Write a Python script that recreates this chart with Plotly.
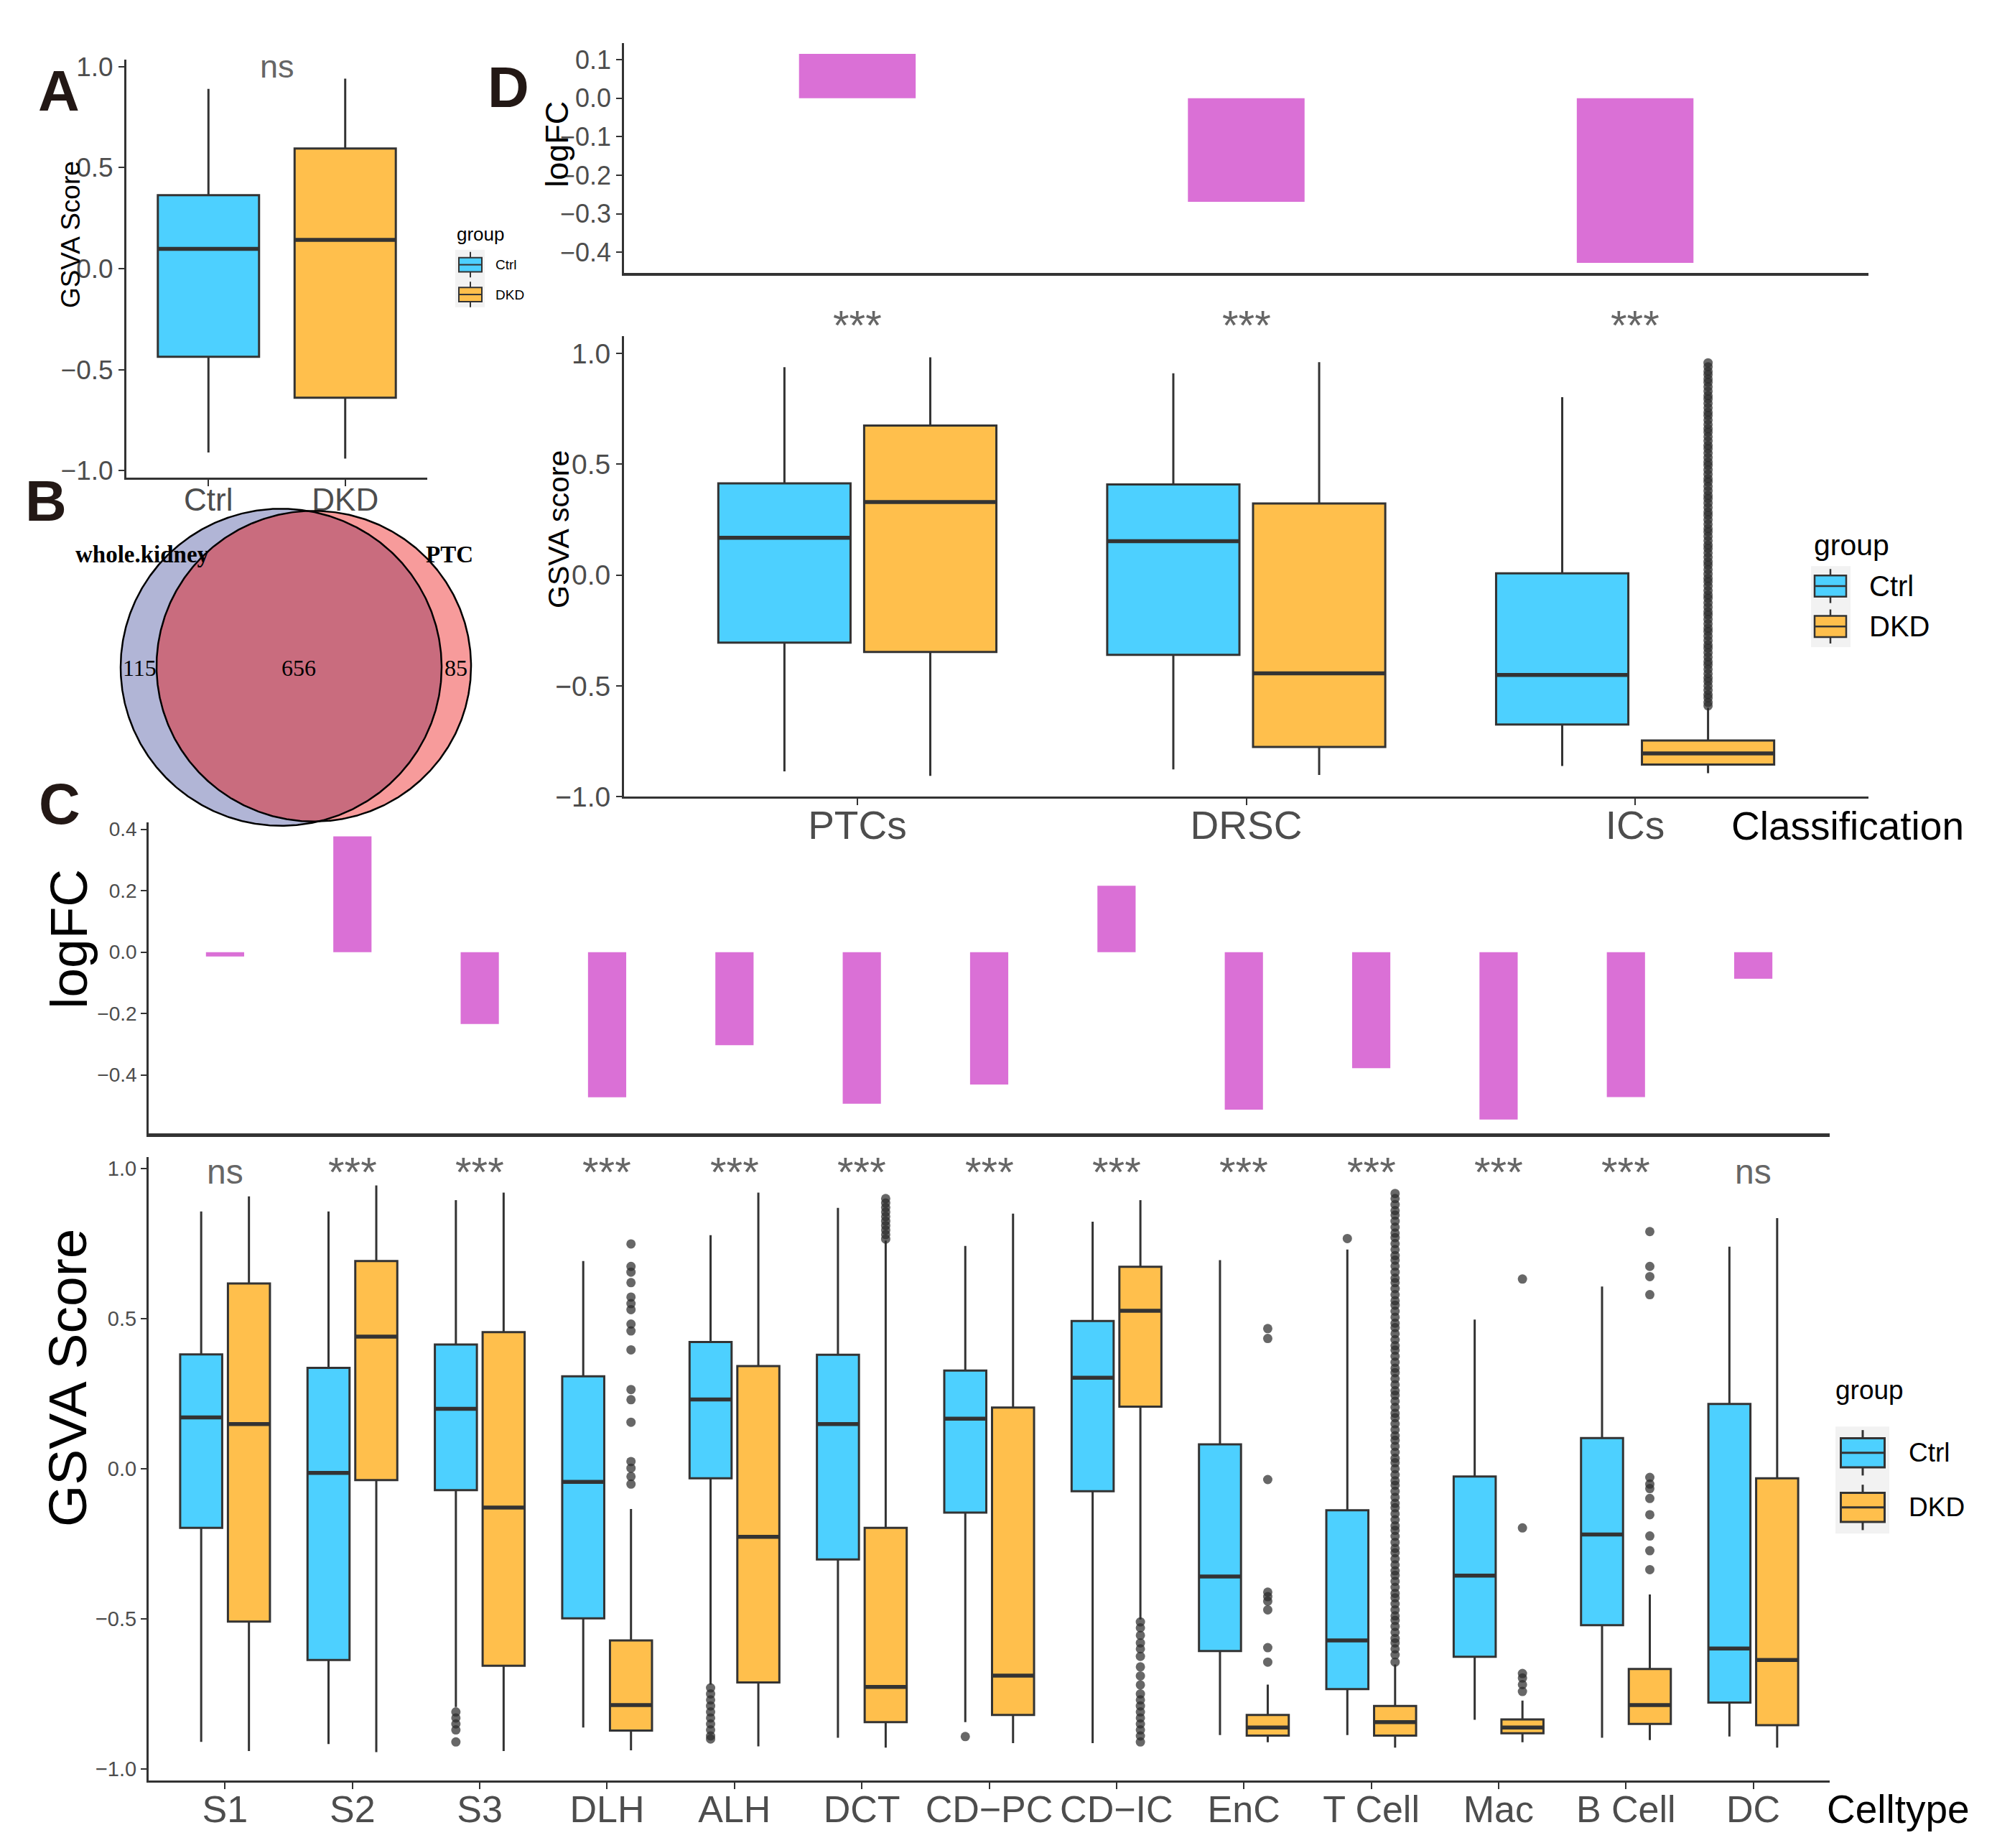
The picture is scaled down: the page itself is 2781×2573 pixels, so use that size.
import numpy as np
import plotly.graph_objects as go

W, H = 2781, 2573

# ---------------- DATA ----------------
groups = ["Ctrl", "DKD"]

# Panel A : overall GSVA score
a_cats = ["Ctrl", "DKD"]
a_low = [-0.91, -0.94]
a_q1 = [-0.436, -0.639]
a_med = [0.098, 0.142]
a_q3 = [0.364, 0.595]
a_high = [0.89, 0.94]
a_sig = "ns"

# Panel B : Venn
venn_sets = ["whole.kidney", "PTC"]
venn_counts = [115, 656, 85]  # whole.kidney only, both, PTC only

# Panel D : classification
d_cats = ["PTCs", "DRSC", "ICs"]
d_logfc = [0.115, -0.269, -0.427]
d_sig = ["***", "***", "***"]
d_ctrl_low = [-0.886, -0.877, -0.862]
d_ctrl_q1 = [-0.305, -0.360, -0.675]
d_ctrl_med = [0.168, 0.153, -0.451]
d_ctrl_q3 = [0.414, 0.409, 0.008]
d_ctrl_high = [0.938, 0.911, 0.803]
d_dkd_low = [-0.906, -0.902, -0.894]
d_dkd_q1 = [-0.347, -0.776, -0.855]
d_dkd_med = [0.330, -0.444, -0.805]
d_dkd_q3 = [0.675, 0.323, -0.747]
d_dkd_high = [0.983, 0.961, -0.599]
d_dkd_outliers = {
    "ICs": [0.958, 0.94, 0.92, 0.905, 0.885, 0.87, 0.85, 0.83, 0.81, 0.795, 0.775, 0.755,
            0.735, 0.72, 0.70, 0.68, 0.66, 0.645, 0.625, 0.605, 0.585, 0.57, 0.55, 0.53,
            0.51, 0.495, 0.475, 0.455, 0.435, 0.42, 0.40, 0.38, 0.36, 0.345, 0.325, 0.305,
            0.285, 0.27, 0.25, 0.23, 0.21, 0.195, 0.175, 0.155, 0.135, 0.12, 0.10, 0.08,
            0.06, 0.045, 0.025, 0.005, -0.015, -0.03, -0.05, -0.07, -0.09, -0.105, -0.125,
            -0.145, -0.165, -0.18, -0.20, -0.22, -0.24, -0.255, -0.275, -0.295, -0.315,
            -0.33, -0.35, -0.37, -0.39, -0.405, -0.425, -0.445, -0.465, -0.48, -0.50,
            -0.52, -0.54, -0.555, -0.575, -0.59],
}

# Panel C : cell types
c_cats = ["S1", "S2", "S3", "DLH", "ALH", "DCT", "CD\u2212PC", "CD\u2212IC", "EnC",
          "T Cell", "Mac", "B Cell", "DC"]
c_logfc = [-0.014, 0.377, -0.234, -0.473, -0.303, -0.494, -0.431, 0.216, -0.513,
           -0.378, -0.545, -0.472, -0.087]
c_sig = ["ns", "***", "***", "***", "***", "***", "***", "***", "***", "***", "***", "***", "ns"]
c_ctrl_low = [-0.910, -0.917, -0.794, -0.862, -0.719, -0.896, -0.844, -0.914, -0.887,
              -0.887, -0.836, -0.896, -0.892]
c_ctrl_q1 = [-0.197, -0.637, -0.071, -0.498, -0.032, -0.302, -0.146, -0.075, -0.607,
             -0.734, -0.626, -0.521, -0.779]
c_ctrl_med = [0.171, -0.014, 0.200, -0.044, 0.231, 0.149, 0.167, 0.303, -0.359,
              -0.572, -0.356, -0.219, -0.599]
c_ctrl_q3 = [0.381, 0.336, 0.414, 0.308, 0.422, 0.380, 0.327, 0.492, 0.081,
             -0.138, -0.026, 0.102, 0.216]
c_ctrl_high = [0.857, 0.857, 0.895, 0.692, 0.778, 0.869, 0.742, 0.823, 0.695,
               0.730, 0.497, 0.607, 0.740]
c_dkd_low = [-0.940, -0.944, -0.940, -0.938, -0.925, -0.929, -0.914, -0.502, -0.911,
             -0.929, -0.911, -0.904, -0.929]
c_dkd_q1 = [-0.509, -0.038, -0.656, -0.872, -0.712, -0.844, -0.820, 0.207, -0.889,
            -0.889, -0.881, -0.850, -0.854]
c_dkd_med = [0.149, 0.440, -0.129, -0.787, -0.227, -0.727, -0.689, 0.526, -0.862,
             -0.844, -0.862, -0.787, -0.637]
c_dkd_q3 = [0.617, 0.692, 0.455, -0.572, 0.342, -0.197, 0.204, 0.673, -0.820,
            -0.790, -0.835, -0.667, -0.032]
c_dkd_high = [0.907, 0.944, 0.920, -0.134, 0.920, 0.760, 0.850, 0.895, -0.719,
              -0.652, -0.772, -0.419, 0.835]
c_ctrl_outliers = {
    "S3": [-0.81, -0.83, -0.85, -0.87, -0.91],
    "ALH": [-0.73, -0.75, -0.77, -0.79, -0.81, -0.83, -0.85, -0.87, -0.89, -0.90],
    "CD\u2212PC": [-0.892],
    "T Cell": [0.767],
}
c_dkd_outliers = {
    "DLH": [0.749, 0.674, 0.655, 0.620, 0.572, 0.550, 0.530, 0.482, 0.459, 0.396, 0.264,
            0.230, 0.155, 0.024, 0.002, -0.026, -0.051],
    "DCT": [0.90, 0.885, 0.87, 0.855, 0.84, 0.825, 0.81, 0.795, 0.78, 0.765],
    "CD\u2212IC": [-0.51, -0.53, -0.555, -0.58, -0.60, -0.625, -0.66, -0.69, -0.72, -0.75,
                   -0.77, -0.79, -0.81, -0.83, -0.85, -0.87, -0.89, -0.91],
    "EnC": [0.467, 0.434, -0.036, -0.411, -0.426, -0.441, -0.47, -0.596, -0.644],
    "T Cell": [0.917, 0.90, 0.88, 0.86, 0.845, 0.825, 0.805, 0.785, 0.77, 0.75, 0.73,
               0.71, 0.695, 0.675, 0.655, 0.635, 0.62, 0.60, 0.58, 0.56, 0.545, 0.525,
               0.505, 0.485, 0.47, 0.45, 0.43, 0.41, 0.395, 0.375, 0.355, 0.335, 0.32,
               0.30, 0.28, 0.26, 0.245, 0.225, 0.205, 0.185, 0.17, 0.15, 0.13, 0.11,
               0.095, 0.075, 0.055, 0.035, 0.02, 0.0, -0.02, -0.04, -0.055, -0.075,
               -0.095, -0.115, -0.13, -0.15, -0.17, -0.19, -0.205, -0.225, -0.245,
               -0.265, -0.28, -0.30, -0.32, -0.34, -0.355, -0.375, -0.395, -0.415,
               -0.43, -0.45, -0.47, -0.49, -0.505, -0.525, -0.545, -0.565, -0.58,
               -0.60, -0.62, -0.644],
    "Mac": [0.632, -0.197, -0.682, -0.697, -0.719, -0.742],
    "B Cell": [0.790, 0.674, 0.640, 0.580, -0.029, -0.051, -0.066, -0.099, -0.153,
               -0.224, -0.273, -0.336],
}

# ---------------- STYLE ----------------
CTRL_COLOR = "#4DD0FF"
DKD_COLOR = "#FFBF4C"
BAR_COLOR = "#DA70D6"
LINE = "#333333"
TICK_TXT = "#4D4D4D"
SIG_TXT = "#666666"
LABEL_TXT = "#231815"
FONT = "Liberation Sans, Arial, Helvetica, sans-serif"
SERIF = "Liberation Serif, Times New Roman, serif"
DODGE = 0.1875
OUT_MARK = dict(size=13, color="rgba(45,45,45,0.72)", line=dict(width=0))


def X(p):
    return p / W


def Y(p):
    return 1 - p / H


def expand(lo, hi, m=0.05):
    d = (hi - lo) * m
    return [lo - d, hi + d]


fig = go.Figure()


def add_boxes(pos, low, q1, med, q3, high, color, xa, ya, width):
    pos = list(pos)
    fig.add_trace(go.Box(
        x=pos, lowerfence=low, q1=q1, median=med, q3=q3, upperfence=high,
        orientation="v", fillcolor=color, line=dict(color=LINE, width=3),
        width=width, boxpoints=False, whiskerwidth=0, showlegend=False,
        hoverinfo="skip", xaxis=xa, yaxis=ya))
    # thicker median bar, as in ggplot
    mx, my = [], []
    for p, m in zip(pos, med):
        mx += [p - width / 2, p + width / 2, None]
        my += [m, m, None]
    fig.add_trace(go.Scatter(x=mx, y=my, mode="lines", line=dict(color=LINE, width=5.5),
                             showlegend=False, hoverinfo="skip", xaxis=xa, yaxis=ya))


def add_outliers(cats, outdict, offset, xa, ya):
    for name, vals in outdict.items():
        i = cats.index(name)
        fig.add_trace(go.Scatter(
            x=[i + offset] * len(vals), y=vals, mode="markers", marker=OUT_MARK,
            showlegend=False, hoverinfo="skip", xaxis=xa, yaxis=ya, cliponaxis=False))


# ---- Panel A ----
a_idx = np.arange(len(a_cats))
add_boxes(a_idx[:1], a_low[:1], a_q1[:1], a_med[:1], a_q3[:1], a_high[:1], CTRL_COLOR, "x", "y", 0.74)
add_boxes(a_idx[1:], a_low[1:], a_q1[1:], a_med[1:], a_q3[1:], a_high[1:], DKD_COLOR, "x", "y", 0.74)

# ---- Panel B (Venn) ----
cL, cyL, rL = 383.5, 922.5, 223.5
cR, cyR, rR = 429.0, 921.0, 219.0
th = np.linspace(-np.pi, np.pi, 721)
xl, yl = cL + rL * np.cos(th), cyL + rL * np.sin(th)
th2 = np.linspace(0, 2 * np.pi, 721)
xr, yr = cR + rR * np.cos(th2), cyR + rR * np.sin(th2)
inL = (xr - cL) ** 2 + (yr - cyL) ** 2 <= rL ** 2
inR = (xl - cR) ** 2 + (yl - cyR) ** 2 <= rR ** 2
lens_x = np.concatenate([xl[inR], xr[inL]])
lens_y = np.concatenate([yl[inR], yr[inL]])
for xs, ys, col in [(xl, yl, "#B1B5D6"), (xr, yr, "#F79B9B"), (lens_x, lens_y, "#C96C7E")]:
    fig.add_trace(go.Scatter(x=xs, y=ys, fill="toself", fillcolor=col, mode="lines",
                             line=dict(width=0), showlegend=False, hoverinfo="skip",
                             xaxis="x2", yaxis="y2"))
for xs, ys in [(xl, yl), (xr, yr)]:
    fig.add_trace(go.Scatter(x=xs, y=ys, mode="lines", line=dict(color="black", width=2.5),
                             showlegend=False, hoverinfo="skip", xaxis="x2", yaxis="y2"))

# ---- Panel D ----
d_idx = np.arange(len(d_cats))
fig.add_trace(go.Bar(x=d_idx, y=d_logfc, width=0.30, marker=dict(color=BAR_COLOR, line=dict(width=0)),
                     showlegend=False, hoverinfo="skip", xaxis="x3", yaxis="y3"))
add_boxes(d_idx - DODGE, d_ctrl_low, d_ctrl_q1, d_ctrl_med, d_ctrl_q3, d_ctrl_high, CTRL_COLOR, "x4", "y4", 0.34)
add_boxes(d_idx + DODGE, d_dkd_low, d_dkd_q1, d_dkd_med, d_dkd_q3, d_dkd_high, DKD_COLOR, "x4", "y4", 0.34)
add_outliers(d_cats, d_dkd_outliers, DODGE, "x4", "y4")

# ---- Panel C ----
c_idx = np.arange(len(c_cats))
fig.add_trace(go.Bar(x=c_idx, y=c_logfc, width=0.30, marker=dict(color=BAR_COLOR, line=dict(width=0)),
                     showlegend=False, hoverinfo="skip", xaxis="x5", yaxis="y5"))
add_boxes(c_idx - DODGE, c_ctrl_low, c_ctrl_q1, c_ctrl_med, c_ctrl_q3, c_ctrl_high, CTRL_COLOR, "x6", "y6", 0.33)
add_boxes(c_idx + DODGE, c_dkd_low, c_dkd_q1, c_dkd_med, c_dkd_q3, c_dkd_high, DKD_COLOR, "x6", "y6", 0.33)
add_outliers(c_cats, c_ctrl_outliers, -DODGE, "x6", "y6")
add_outliers(c_cats, c_dkd_outliers, DODGE, "x6", "y6")

# ---------------- AXES ----------------
def xax(px0, px1, anchor, rng, tickvals=None, ticktext=None, fsize=50, show_ticks=True,
        lw=3, standoff=0):
    d = dict(domain=[X(px0), X(px1)], anchor=anchor, range=rng, showline=True,
             linecolor=LINE, linewidth=lw, showgrid=False, zeroline=False, fixedrange=True)
    if show_ticks:
        d.update(tickmode="array", tickvals=list(tickvals), ticktext=list(ticktext),
                 ticks="outside", ticklen=9, tickwidth=2, tickcolor=LINE,
                 ticklabelstandoff=standoff,
                 tickfont=dict(family=FONT, size=fsize, color=TICK_TXT))
    else:
        d.update(showticklabels=False, ticks="")
    return d


def yax(py0, py1, anchor, rng, tickvals, fsize, lw=3):
    return dict(domain=[Y(py1), Y(py0)], anchor=anchor, range=rng, showline=True,
                linecolor=LINE, linewidth=lw, showgrid=False, zeroline=False,
                tickmode="array", tickvals=list(tickvals), tickformat=".1f",
                ticks="outside", ticklen=8, tickwidth=2, tickcolor=LINE,
                tickfont=dict(family=FONT, size=fsize, color=TICK_TXT), fixedrange=True)


box_ticks = [-1.0, -0.5, 0.0, 0.5, 1.0]
a_rng = expand(min(a_low), max(a_high))
d_rng = expand(min(d_ctrl_low + d_dkd_low), max(d_ctrl_high + d_dkd_high))
c_all = (c_ctrl_low + c_dkd_low + c_ctrl_high + c_dkd_high
         + sum(c_ctrl_outliers.values(), []) + sum(c_dkd_outliers.values(), []))
c_rng = expand(min(c_all), max(c_all))
dbar_rng = expand(min(0, min(d_logfc)), max(0, max(d_logfc)))
cbar_rng = expand(min(0, min(c_logfc)), max(0, max(c_logfc)))

layout_axes = dict(
    xaxis=xax(168, 587, "y", [-0.6, len(a_cats) - 0.4], a_idx, a_cats, 44, standoff=-19),
    yaxis=yax(66, 655, "x", a_rng, box_ticks, 37),
    xaxis2=dict(domain=[X(140), X(680)], anchor="y2", range=[140, 680], visible=False, fixedrange=True),
    yaxis2=dict(domain=[Y(1170), Y(690)], anchor="x2", range=[1170, 690], visible=False, fixedrange=True),
    xaxis3=xax(861, 2594, "y3", [-0.6, len(d_cats) - 0.4], show_ticks=False, lw=4),
    yaxis3=yax(43, 367, "x3", dbar_rng, [-0.4, -0.3, -0.2, -0.1, 0.0, 0.1], 36, lw=2.5),
    xaxis4=xax(861, 2594, "y4", [-0.6, len(d_cats) - 0.4], d_idx, d_cats, 55, standoff=-19),
    yaxis4=yax(456, 1105, "x4", d_rng, box_ticks, 39),
    xaxis5=xax(199, 2540, "y5", [-0.6, len(c_cats) - 0.4], show_ticks=False, lw=5),
    yaxis5=yax(1141, 1580, "x5", cbar_rng, [-0.4, -0.2, 0.0, 0.2, 0.4], 28, lw=2.5),
    xaxis6=xax(199, 2540, "y6", [-0.6, len(c_cats) - 0.4], c_idx, c_cats, 52, standoff=-16),
    yaxis6=yax(1613, 2492, "x6", c_rng, box_ticks, 29),
)

# ---------------- ANNOTATIONS ----------------
ann = []


def txt(x, y, s, size, color="black", xanchor="center", yanchor="middle", angle=0,
        family=FONT, weight="normal", xref="paper", yref="paper"):
    ann.append(dict(x=x, y=y, xref=xref, yref=yref, text=s, showarrow=False,
                    xanchor=xanchor, yanchor=yanchor, textangle=angle,
                    font=dict(family=family, size=size, color=color, weight=weight)))


# panel letters
for lab, px, py in [("A", 74, 110), ("B", 56, 688), ("C", 75, 1115), ("D", 700, 105)]:
    txt(X(px), Y(py), lab, 80, LABEL_TXT, weight="bold")

# axis titles
txt(X(90), Y(312), "GSVA Score", 37, angle=-90)
txt(X(768), Y(185), "logFC", 45, angle=-90)
txt(X(770), Y(728), "GSVA score", 41, angle=-90)
txt(X(88), Y(1306), "logFC", 73, angle=-90)
txt(X(86), Y(1925), "GSVA Score", 75, angle=-90)
txt(X(2565), Y(1146), "Classification", 55)
txt(X(2635), Y(2533), "Celltype", 55)

# significance
txt(0.5, Y(75), a_sig, 45, SIG_TXT, xref="x")
for i, s in enumerate(d_sig):
    txt(i, Y(440), s, 58, SIG_TXT, xref="x4")
for i, s in enumerate(c_sig):
    txt(i, Y(1634), s, 58 if s == "***" else 48, SIG_TXT, xref="x6")

# venn texts
txt(190, 764, "<b>" + venn_sets[0] + "</b>", 33, family=SERIF, xref="x2", yref="y2")
txt(618, 764, "<b>" + venn_sets[1] + "</b>", 33, family=SERIF, xref="x2", yref="y2")
txt(186, 923, str(venn_counts[0]), 32, family=SERIF, xref="x2", yref="y2")
txt(408, 923, str(venn_counts[1]), 32, family=SERIF, xref="x2", yref="y2")
txt(627, 923, str(venn_counts[2]), 32, family=SERIF, xref="x2", yref="y2")

# ---------------- LEGENDS (drawn) ----------------
shapes = []


def rect(x0, y0, x1, y1, fill, lw=0):
    shapes.append(dict(type="rect", xref="paper", yref="paper", x0=X(x0), x1=X(x1),
                       y0=Y(y1), y1=Y(y0), fillcolor=fill,
                       line=dict(color=LINE, width=lw) if lw else dict(width=0)))


def seg(x0, y0, x1, y1, lw):
    shapes.append(dict(type="line", xref="paper", yref="paper", x0=X(x0), x1=X(x1),
                       y0=Y(y0), y1=Y(y1), line=dict(color=LINE, width=lw)))


def legend(title_x, title_y, tsize, bg, cx, cys, bw, bh, wh, lab_x, lsize, lw):
    rect(*bg, "#F2F2F2")
    for cy, col, lab in zip(cys, [CTRL_COLOR, DKD_COLOR], groups):
        seg(cx, cy - wh, cx, cy + wh, lw)
        rect(cx - bw / 2, cy - bh / 2, cx + bw / 2, cy + bh / 2, col, lw)
        seg(cx - bw / 2, cy, cx + bw / 2, cy, lw)
        txt(X(lab_x), Y(cy), lab, lsize, "black", xanchor="left")
    txt(X(title_x), Y(title_y), "group", tsize, "black", xanchor="left")


legend(626, 312, 26, (626, 334, 667, 415), 647, [355, 397], 32, 20, 18, 680, 19, 2)
legend(2516, 750, 41, (2514, 780, 2569, 894), 2541, [808, 865], 44, 30, 24, 2593, 40, 2.5)
legend(2546, 1942, 37, (2548, 1993, 2623, 2144), 2586, [2030, 2107], 61, 41, 32, 2648, 37, 3)

fig.update_layout(
    width=W, height=H, margin=dict(l=0, r=0, t=0, b=0),
    paper_bgcolor="white", plot_bgcolor="rgba(0,0,0,0)", showlegend=False,
    boxmode="overlay", barmode="overlay",
    annotations=ann, shapes=shapes,
    font=dict(family=FONT),
    **layout_axes,
)

fig.write_html("out.html")
